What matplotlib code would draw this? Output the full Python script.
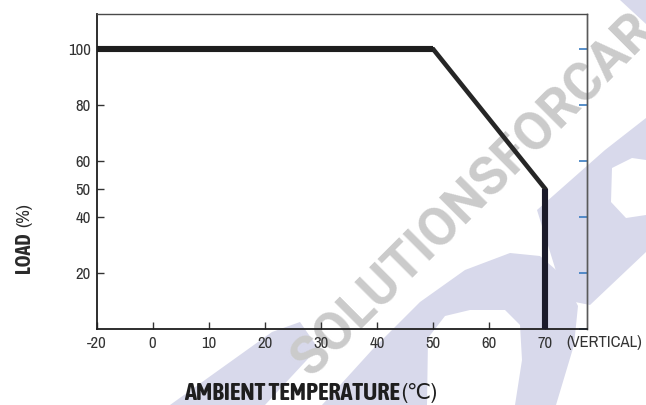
import numpy as np
import matplotlib
matplotlib.use("Agg")
import matplotlib.pyplot as plt
from matplotlib.patches import Polygon

# ---- data ----
temps = [-20, 50, 70, 70]          # ambient temperature (°C)
loads = [100, 100, 50, 0]          # load (%)
x_ticks = [-20, 0, 10, 20, 30, 40, 50, 60, 70]
y_ticks = [20, 40, 50, 60, 80, 100]
y_ticks_right = [0, 20, 40, 60, 80, 100]

W, H = 646, 405
fig = plt.figure(figsize=(W / 100, H / 100), dpi=100)
fig.patch.set_facecolor("white")

NARROW = ["Archivo Narrow", "Liberation Sans", "DejaVu Sans"]
NARROW_B = ["Asap Condensed", "Liberation Sans", "DejaVu Sans"]


def px(x, y):
    return (x / W, 1 - y / H)


# ---- watermark (background decoration) ----
lav = "#d8d9eb"
shapes = [
    [(170, 405), (265, 405), (318, 348), (300, 322), (272, 332)],
    [(322, 405), (372, 350), (420, 302), (465, 270), (510, 253), (540, 256),
     (563, 276), (578, 306), (574, 345), (556, 405)],
    [(537, 210), (605, 150), (646, 118), (646, 252), (590, 305), (565, 300)],
    [(620, 0), (646, 0), (646, 24)],
]
for s in shapes:
    fig.patches.append(Polygon([px(*p) for p in s], closed=True,
                               transform=fig.transFigure, facecolor=lav,
                               edgecolor="none", zorder=-3))
holes = [
    [(427, 405), (428, 338), (445, 316), (470, 310), (505, 310), (520, 325),
     (522, 360), (515, 405)],
    [(612, 168), (632, 158), (646, 160), (646, 215), (626, 218), (611, 202)],
]
for s in holes:
    fig.patches.append(Polygon([px(*p) for p in s], closed=True,
                               transform=fig.transFigure, facecolor="white",
                               edgecolor="none", zorder=-2.5))
fig.text(*px(311, 379), "SOLUTIONSFORCAR", rotation=45, rotation_mode="anchor",
         ha="left", va="baseline", fontsize=38, fontweight="bold",
         family=["Roboto", "DejaVu Sans"], color="#cbcbcb", zorder=-2)

# ---- axes ----
ax = fig.add_axes([96.5 / W, 1 - 329 / H, (587 - 96.5) / W, (329 - 14) / H])
ax.set_facecolor("none")


def fwd(t):
    t = np.asarray(t, dtype=float)
    return np.where(t < 0, (t + 20) / 20, 1 + t / 10)


def inv(p):
    p = np.asarray(p, dtype=float)
    return np.where(p < 1, p * 20 - 20, (p - 1) * 10)


ax.set_xscale("function", functions=(fwd, inv))
ax.set_xlim(-20, 77.4)
ax.set_ylim(0, 112.6)

# derating curve
ax.plot(temps, loads, color="#262626", lw=3.3, solid_joinstyle="miter",
        solid_capstyle="butt", zorder=3)
ax.plot(temps[0:2], loads[0:2], color="#1e1e1e", lw=4.4,
        solid_capstyle="butt", zorder=4)
ax.plot(temps[2:4], loads[2:4], color="#1b1b2a", lw=4.4,
        solid_capstyle="butt", zorder=4)

ax.set_xticks(x_ticks)
ax.set_xticklabels([str(v) for v in x_ticks])
ax.set_yticks(y_ticks)
ax.set_yticklabels([str(v) for v in y_ticks])
ax.tick_params(axis="both", direction="in", length=5, width=1.0,
               color="#333333", labelcolor="#333333", labelsize=12)
ax.tick_params(axis="x", pad=5)
ax.tick_params(axis="y", pad=4)
for lab in ax.get_xticklabels() + ax.get_yticklabels():
    lab.set_family(NARROW)
ax.minorticks_off()

for side, c, w in [("left", "#1e1e1e", 1.3), ("bottom", "#1e1e1e", 1.3),
                   ("top", "#4a4a4a", 1.0), ("right", "#5a5a5a", 1.0)]:
    ax.spines[side].set_color(c)
    ax.spines[side].set_linewidth(w)

sec = ax.secondary_yaxis("right")
sec.set_yticks(y_ticks_right)
sec.set_yticklabels([])
sec.tick_params(direction="in", length=6, width=1.2, color="#3a7cc0")
sec.spines["right"].set_color("#5a5a5a")
sec.spines["right"].set_linewidth(1.0)
sec.minorticks_off()

# ---- labels ----
fig.text(*px(566.5, 343), "(VERTICAL)", ha="left", va="center",
         fontsize=12, family=NARROW, color="#333333")
fig.text(*px(24, 253), "LOAD", rotation=90, ha="center", va="center",
         fontsize=14.5, fontweight="bold", family=NARROW_B, color="#2a2a2a")
fig.text(*px(24, 215), "(%)", rotation=90, ha="center", va="center",
         fontsize=13.5, family=NARROW, color="#2a2a2a")
fig.text(*px(400, 393), "AMBIENT TEMPERATURE", ha="right", va="center",
         fontsize=17.5, fontweight="bold", family=NARROW_B, color="#1e1e1e")
fig.text(*px(401, 393), "(\u2103)", ha="left", va="center",
         fontsize=15.5, family=["Archivo Narrow", "DejaVu Sans"],
         color="#1e1e1e")

fig.savefig("out.png", dpi=100, facecolor="white")
